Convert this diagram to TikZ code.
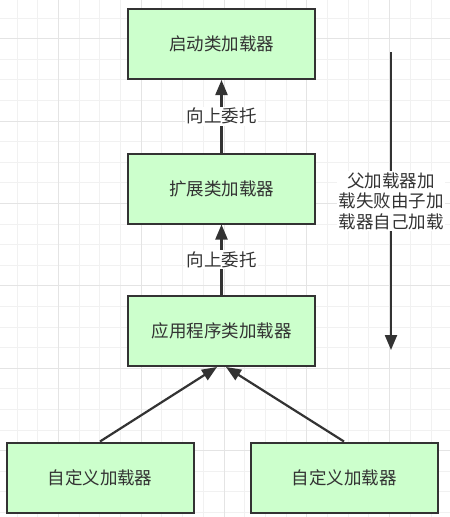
\documentclass[tikz,border=0pt]{standalone}
\usepackage{fontspec}
\setmainfont{Noto Sans CJK SC}
\usetikzlibrary{arrows.meta, positioning}
\definecolor{grigioScuro}{RGB}{51, 51, 51}
\definecolor{verdeChiaro}{RGB}{204, 255, 204}
\definecolor{grigliaChiara}{RGB}{241, 241, 241}
\definecolor{grigliaScura}{RGB}{228, 228, 228}

\begin{document}
\begin{tikzpicture}[x=1pt, y=-1pt,
    caricatore/.style={draw=grigioScuro, line width=2pt, fill=verdeChiaro, minimum width=187pt, minimum height=70pt, text=grigioScuro, font=\fontsize{17.5}{20}\selectfont},
    freccia/.style={draw=grigioScuro, line width=2.2pt, -{Triangle[length=15pt, width=12pt]}},
    etichetta/.style={fill=white, text=grigioScuro, inner sep=1.5pt, font=\fontsize{17.5}{20.5}\selectfont}]
    \useasboundingbox (0,0) rectangle (450,517);
    \fill[white] (0,0) rectangle (450,517);

    % Background grid
    \foreach \k in {1,...,22} {
        \draw[grigliaChiara, line width=1pt] ({-3.7+20.7*\k},0) -- ({-3.7+20.7*\k},517);
    }
    \foreach \k in {1,...,25} {
        \draw[grigliaChiara, line width=1pt] (0,{-2.6+20.6*\k}) -- (450,{-2.6+20.6*\k});
    }
    \foreach \k in {3,7,11,15,19} {
        \draw[grigliaScura, line width=1pt] ({-3.7+20.7*\k},0) -- ({-3.7+20.7*\k},517);
    }
    \foreach \k in {2,6,10,14,18,22} {
        \draw[grigliaScura, line width=1pt] (0,{-2.6+20.6*\k}) -- (450,{-2.6+20.6*\k});
    }

    % Loaders
    \node[caricatore] (avvio) at (221.5,44) {启动类加载器};
    \node[caricatore] (estensione) at (221.5,188.5) {扩展类加载器};
    \node[caricatore] (applicazione) at (221.5,331) {应用程序类加载器};
    \node[caricatore] (utenteSx) at (100,477.5) {自定义加载器};
    \node[caricatore] (utenteDx) at (344,477.5) {自定义加载器};

    % Delegation upwards
    \draw[freccia] (estensione.north) -- node[etichetta] {向上委托} (avvio.south);
    \draw[freccia] (applicazione.north) -- node[etichetta] {向上委托} (estensione.south);
    \draw[freccia] (utenteSx.north) -- ([xshift=-4.5pt]applicazione.south);
    \draw[freccia] (utenteDx.north) -- ([xshift=4.5pt]applicazione.south);

    % Loading downwards
    \coordinate (alto) at (391,52);
    \coordinate (basso) at (391,350);
    \draw[freccia] (alto) -- node[etichetta, align=center] {父加载器加\\载失败由子加\\载器自己加载} (basso);
\end{tikzpicture}
\end{document}
